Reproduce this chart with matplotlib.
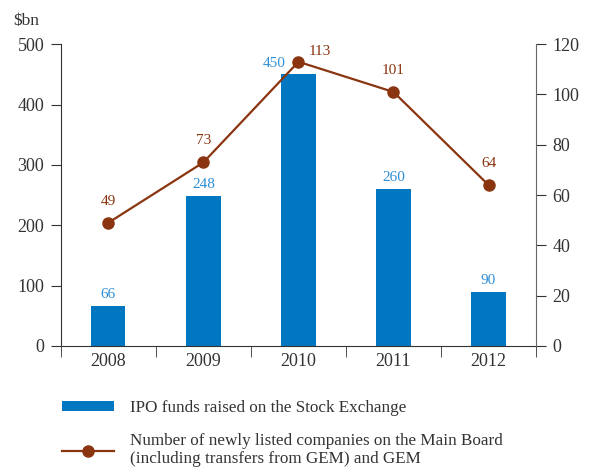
import matplotlib
matplotlib.use('Agg')
import matplotlib.pyplot as plt
from matplotlib.lines import Line2D
from matplotlib.patches import Patch

years = ['2008', '2009', '2010', '2011', '2012']
ipo_funds = [66, 248, 450, 260, 90]
new_listings = [49, 73, 113, 101, 64]

bar_col = '#0077c0'
bar_txt = '#2f8fd6'
line_col = '#8a3510'
txt_col = '#333333'

plt.rcParams['font.family'] = ['Liberation Serif', 'DejaVu Serif']

fig = plt.figure(figsize=(5.91, 4.70), dpi=100)
ax = fig.add_axes([0.103, 0.264, 0.804, 0.642])
ax2 = ax.twinx()

x = list(range(len(years)))
ax.bar(x, ipo_funds, width=0.36, color=bar_col, zorder=2)
ax.set_ylim(0, 500)
ax.set_xlim(-0.5, 4.5)
ax.set_yticks(range(0, 501, 100))
ax.set_xticks(x)
ax.set_xticklabels(years)
ax.set_xticks([i - 0.5 for i in range(6)], minor=True)
ax.tick_params(axis='x', which='major', length=0, pad=5, labelsize=13, colors=txt_col)
ax.tick_params(axis='x', which='minor', length=8, direction='out', color=txt_col)
ax.tick_params(axis='y', length=7, labelsize=13, colors=txt_col, pad=5)

ax2.plot(x, new_listings, color=line_col, lw=1.6, marker='o', ms=8, zorder=3)
ax2.set_ylim(0, 120)
ax2.set_yticks(range(0, 121, 20))
ax2.tick_params(axis='y', length=7, labelsize=13, colors=txt_col, pad=5)

for a in (ax, ax2):
    a.spines['top'].set_visible(False)
ax.spines['right'].set_visible(False)
ax2.spines['left'].set_visible(False)
ax2.spines['bottom'].set_visible(False)
ax.spines['left'].set_color(txt_col)
ax.spines['bottom'].set_color(txt_col)
ax2.spines['right'].set_color('#666666')

# value labels for the bars
for i, v in enumerate(ipo_funds):
    if v == max(ipo_funds):
        ax.text(i - 0.13, v + 8, str(v), ha='right', va='bottom', color=bar_txt, fontsize=11)
    else:
        ax.text(i, v + 8, str(v), ha='center', va='bottom', color=bar_txt, fontsize=11)

# value labels for the line
for i, v in enumerate(new_listings):
    if v == max(new_listings):
        ax2.text(i + 0.22, v + 1.5, str(v), ha='center', va='bottom', color=line_col, fontsize=11)
    else:
        ax2.text(i, v + 6, str(v), ha='center', va='bottom', color=line_col, fontsize=11)

fig.text(0.022, 0.955, '$bn', fontsize=12.5, color=txt_col, va='center')

handles = [Patch(facecolor=bar_col, edgecolor='none'),
           Line2D([], [], color=line_col, lw=1.6, marker='o', ms=8)]
labels = ['IPO funds raised on the Stock Exchange',
          'Number of newly listed companies on the Main Board\n(including transfers from GEM) and GEM']
leg = fig.legend(handles, labels, loc='upper left', bbox_to_anchor=(0.105, 0.149),
                 frameon=False, fontsize=12.3, handlelength=3.05, handleheight=0.6,
                 labelspacing=1.0, handletextpad=0.9, borderpad=0, borderaxespad=0,
                 labelcolor=txt_col)
for t in leg.get_texts():
    t.set_linespacing(1.2)

fig.savefig('out.png', dpi=100)
